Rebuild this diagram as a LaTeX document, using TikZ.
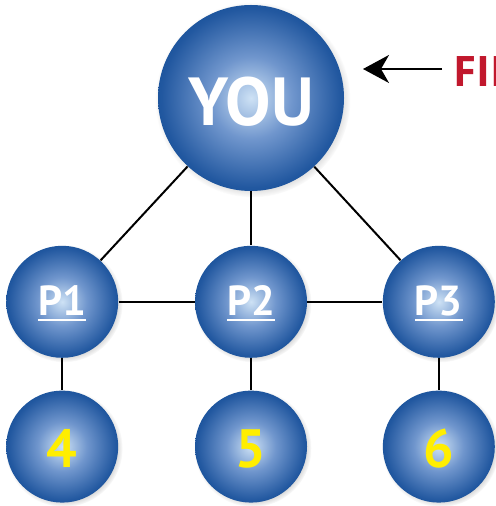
\documentclass[tikz,border=0pt]{standalone}
\usepackage{fontspec}
\setmainfont{PT Sans}
\newfontfamily\widefont{Open Sans}
\usepackage{xcolor}
\usetikzlibrary{arrows.meta,positioning,shadows}
\definecolor{deepblue}{RGB}{4,70,144}
\definecolor{midblue}{RGB}{34,88,160}
\definecolor{softblue}{RGB}{112,150,205}
\definecolor{glowblue}{RGB}{206,226,245}
\definecolor{alertred}{RGB}{193,24,45}
\definecolor{lemon}{RGB}{255,238,0}
\pgfdeclareradialshading{bubbleshade}{\pgfpoint{0bp}{0bp}}{%
  color(0bp)=(glowblue); color(11bp)=(softblue); color(24bp)=(midblue);
  color(32bp)=(deepblue); color(50bp)=(deepblue)}
\newsavebox\ulbox
\newcommand\thickul[1]{\sbox\ulbox{#1}\usebox\ulbox\llap{\smash{\rule[-2.5pt]{\wd\ulbox}{1pt}}}}

\begin{document}
\begin{tikzpicture}[
  x=0.5pt, y=-0.5pt,
  bubble/.style={circle, shading=bubbleshade, draw=none, inner sep=0pt, minimum size=56pt,
    circular drop shadow={shadow xshift=0.8pt, shadow yshift=-0.8pt, shadow scale=1.05, opacity=0.45}},
  big bubble/.style={bubble, minimum size=93pt},
  link/.style={line width=1pt, draw=black},
  arrow/.style={-{Stealth[length=13pt, width=14pt, inset=4pt]}, line width=1pt, draw=black}
]
\useasboundingbox (0,0) rectangle (495,506);

% top node
\node[big bubble, font=\fontsize{34}{34}\selectfont\bfseries, text=white, text height=28pt, text depth=0pt] (you) at (251,98) {YOU};

% middle row
\node[bubble, below=27pt of you, font=\fontsize{21}{21}\selectfont\bfseries, text=white, text height=14pt, text depth=0pt] (p2) {\thickul{P2}};
\node[bubble, left=38pt of p2, font=\fontsize{21}{21}\selectfont\bfseries, text=white, text height=14pt, text depth=0pt] (p1) {\thickul{P1}};
\node[bubble, right=37.5pt of p2, font=\fontsize{21}{21}\selectfont\bfseries, text=white, text height=14pt, text depth=0pt] (p3) {\thickul{P3}};

% bottom row
\node[bubble, below=16pt of p1, font=\fontsize{27}{27}\selectfont\bfseries, text=lemon, text height=21pt, text depth=0pt] (n4) {4};
\node[bubble, below=16pt of p2, font=\fontsize{27}{27}\selectfont\bfseries, text=lemon, text height=21pt, text depth=0pt] (n5) {5};
\node[bubble, below=16pt of p3, font=\fontsize{27}{27}\selectfont\bfseries, text=lemon, text height=21pt, text depth=0pt] (n6) {6};

% label and arrow
\node[anchor=west, inner sep=5.5pt, font=\widefont\fontsize{21}{21}\selectfont\bfseries, text=alertred] (first) at (442,72) {FII};
\coordinate (tip) at (363,69);

\draw[link] (you) -- (p1);
\draw[link] (you) -- (p2);
\draw[link] (you) -- (p3);
\draw[link] (p1) -- (p2);
\draw[link] (p2) -- (p3);
\draw[link] (p1) -- (n4);
\draw[link] (p2) -- (n5);
\draw[link] (p3) -- (n6);
\draw[arrow] (first.west |- tip) -- (tip);
\end{tikzpicture}
\end{document}
